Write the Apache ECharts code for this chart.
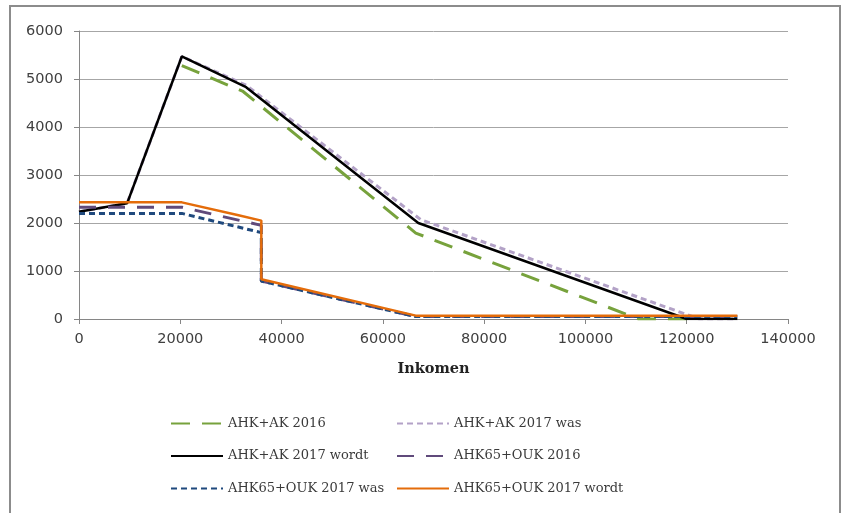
<!DOCTYPE html>
<html>
<head>
<meta charset="utf-8">
<script src="https://cdn.jsdelivr.net/npm/echarts@6/dist/echarts.min.js"></script>
<style>
    html, body { margin: 0; padding: 0; background: #fff; }
    #chart { width: 843px; height: 513px; }
</style>
</head>
<body>
<div id="chart"></div>
<script>
// series names as in the legend
const seriesNames = [
    'AHK+AK 2016',
    'AHK+AK 2017 was',
    'AHK+AK 2017 wordt',
    'AHK65+OUK 2016',
    'AHK65+OUK 2017 was',
    'AHK65+OUK 2017 wordt'
];

// [inkomen, bedrag] pairs
const ahkAk2016 = [[20300, 5280], [32400, 4740], [66500, 1790], [110500, 0], [120000, 0]];
const ahkAk2017was = [[0, 2235], [9500, 2410], [20300, 5470], [33000, 4870], [67500, 2070], [122500, 0], [130000, 0]];
const ahkAk2017wordt = [[0, 2235], [9500, 2410], [20300, 5470], [33000, 4830], [67000, 2000], [120000, 0], [130000, 0]];
const ahk65Ouk2016 = [[0, 2330], [20300, 2330], [36000, 1950], [36000, 790], [66500, 50], [130000, 50]];
const ahk65Ouk2017was = [[0, 2200], [20300, 2200], [36000, 1800], [36000, 790], [66500, 50], [130000, 50]];
const ahk65Ouk2017wordt = [[0, 2430], [20300, 2430], [31500, 2160], [36000, 2050], [36000, 830], [66500, 70], [130000, 70]];

const xTicks = [0, 140000, 20000];
const yTicks = [0, 6000, 1000];

let myChart = echarts.init(document.getElementById('chart'));

function line(name, data, color, width, dash)
{
    return {
        name: name,
        type: 'line',
        data: data,
        symbol: 'none',
        animation: false,
        lineStyle: {
            color: color,
            width: width,
            type: dash,
            cap: 'butt'
        },
        itemStyle: { color: color }
    };
}

const legendText = {
    fontFamily: 'DejaVu Serif',
    fontSize: 13,
    color: '#3a3a3a'
};

const plainNumber = function (val)
{
    return String(val);
};

let option = {
    backgroundColor: '#fff',
    animation: false,
    graphic: [{
        type: 'rect',
        shape: { x: 10, y: 6, width: 830, height: 530 },
        style: { fill: 'none', stroke: '#8c8c8c', lineWidth: 2 }
    }],
    grid: {
        left: 79,
        right: 55,
        top: 31,
        bottom: 194
    },
    xAxis: {
        type: 'value',
        min: xTicks[0],
        max: xTicks[1],
        interval: xTicks[2],
        name: 'Inkomen',
        nameLocation: 'middle',
        nameGap: 43,
        nameTextStyle: {
            fontFamily: 'DejaVu Serif',
            fontWeight: 'bold',
            fontSize: 14.5,
            color: '#222'
        },
        axisLine: { lineStyle: { color: '#868686' } },
        axisTick: { show: true, length: 5, lineStyle: { color: '#868686' } },
        axisLabel: {
            fontFamily: 'DejaVu Sans',
            fontSize: 14.5,
            color: '#404040',
            margin: 13,
            formatter: plainNumber
        },
        splitLine: { show: false }
    },
    yAxis: {
        type: 'value',
        min: yTicks[0],
        max: yTicks[1],
        interval: yTicks[2],
        axisLine: { show: true, lineStyle: { color: '#868686' } },
        axisTick: { show: true, length: 5, lineStyle: { color: '#868686' } },
        axisLabel: {
            fontFamily: 'DejaVu Sans',
            fontSize: 14.5,
            color: '#404040',
            margin: 16,
            formatter: plainNumber
        },
        splitLine: { lineStyle: { color: '#a6a6a6', width: 1 } }
    },
    legend: [{
        left: 165,
        top: 412,
        orient: 'vertical',
        itemWidth: 52,
        itemHeight: 14,
        itemGap: 19.5,
        itemStyle: { opacity: 0 },
        textStyle: legendText,
        data: [seriesNames[0], seriesNames[2], seriesNames[4]]
    }, {
        left: 391,
        top: 412,
        orient: 'vertical',
        itemWidth: 52,
        itemHeight: 14,
        itemGap: 19.5,
        itemStyle: { opacity: 0 },
        textStyle: legendText,
        data: [seriesNames[1], seriesNames[3], seriesNames[5]]
    }],
    series: [
        line(seriesNames[0], ahkAk2016, '#77a23c', 3, [19, 12]),
        line(seriesNames[1], ahkAk2017was, '#b3a2c7', 3, [6, 4]),
        line(seriesNames[2], ahkAk2017wordt, '#000000', 2.5, 'solid'),
        line(seriesNames[3], ahk65Ouk2016, '#604a7b', 3, [17, 12]),
        line(seriesNames[4], ahk65Ouk2017was, '#1f497d', 3, [6, 4]),
        line(seriesNames[5], ahk65Ouk2017wordt, '#e46c0a', 2.5, 'solid')
    ]
};

myChart.setOption(option);
</script>
</body>
</html>
